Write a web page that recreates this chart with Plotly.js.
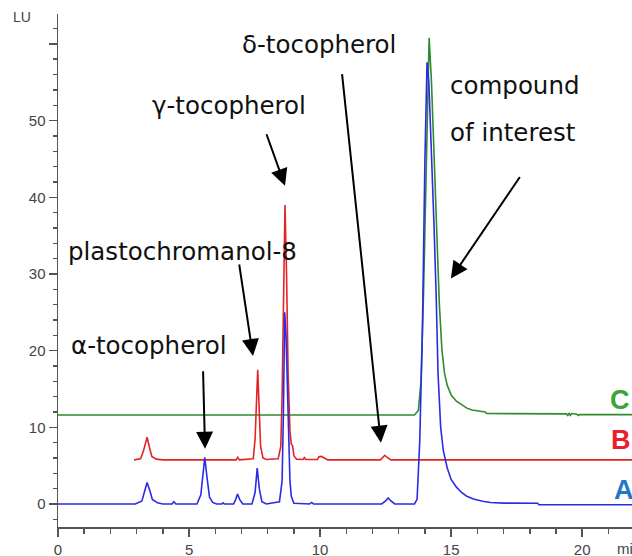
<!DOCTYPE html>
<html>
<head>
<meta charset="utf-8">
<script src="https://cdn.plot.ly/plotly-3.0.1.min.js"></script>
<style>
html,body{margin:0;padding:0;background:#fff;}
#chart{width:632px;height:556px;}
</style>
</head>
<body>
<div id="chart"></div>
<script>
// Trace A (blue) retention time (min) and signal (LU)
const timeA = [0, 2.95, 3.2, 3.3, 3.4, 3.5, 3.6, 3.8, 4.0, 4.35, 4.42, 4.5, 5.3, 5.45, 5.53, 5.6, 5.68, 5.78, 5.9, 6.05, 6.25, 6.3, 6.35, 6.7, 6.78, 6.85, 6.93, 7.05, 7.4, 7.52, 7.6, 7.68, 7.78, 7.95, 8.45, 8.55, 8.6, 8.65, 8.7, 8.75, 8.8, 8.85, 8.9, 9.0, 9.6, 9.68, 9.75, 12.35, 12.5, 12.6, 12.7, 12.85, 13.6, 13.7, 13.8, 13.9, 14.0, 14.08, 14.15, 14.25, 14.35, 14.43, 14.5, 14.6, 14.7, 14.85, 15.0, 15.2, 15.4, 15.6, 15.85, 16.2, 16.5, 17.0, 18.3, 18.35, 21.9];
const signalA = [0, 0, 0.4, 1.7, 2.8, 1.8, 0.6, 0.15, 0, 0, 0.3, 0, 0, 1.2, 4.0, 6.1, 3.6, 0.9, 0.2, 0, 0, 0.15, 0, 0, 0.6, 1.3, 0.6, 0, 0, 1.5, 4.7, 2.0, 0.3, 0, 0.3, 3, 12, 25, 22, 15, 8, 3, 1, 0.1, 0, 0.2, 0, 0, 0.4, 0.8, 0.4, 0, 0, 0.6, 8, 22, 45, 57.6, 55, 46, 36, 27, 17, 10, 7, 4.7, 3.2, 2.2, 1.5, 1.0, 0.65, 0.35, 0.2, 0.12, 0.1, -0.1, -0.1];

// Trace B (red)
const timeB = [2.9, 3.15, 3.25, 3.33, 3.4, 3.48, 3.58, 3.75, 4.0, 6.8, 6.86, 6.92, 7.45, 7.52, 7.56, 7.62, 7.68, 7.73, 7.82, 7.95, 8.4, 8.5, 8.55, 8.6, 8.66, 8.72, 8.78, 8.85, 8.9, 8.95, 9.0, 9.1, 9.35, 9.4, 9.45, 9.9, 9.95, 10.05, 10.15, 10.3, 12.3, 12.4, 12.47, 12.55, 12.7, 21.9];
const signalB = [5.75, 5.9, 6.8, 8.0, 8.7, 7.5, 6.2, 5.85, 5.75, 5.75, 6.1, 5.75, 5.9, 8.5, 12, 17.5, 12, 7.5, 6.0, 5.8, 5.9, 7.5, 14, 29, 39.0, 30, 17, 9.5, 7.8, 7.6, 6.3, 5.85, 5.8, 6.05, 5.8, 5.8, 6.15, 6.2, 6.05, 5.75, 5.75, 6.15, 6.35, 6.1, 5.75, 5.75];

// Trace C (green)
const timeC = [0, 13.6, 13.75, 13.85, 13.95, 14.05, 14.16, 14.25, 14.35, 14.45, 14.55, 14.65, 14.75, 14.85, 15.0, 15.2, 15.4, 15.6, 15.8, 16.1, 16.3, 16.35, 19.4, 19.45, 19.5, 19.55, 19.6, 19.8, 19.85, 19.9, 21.9];
const signalC = [11.6, 11.6, 12.2, 16, 28, 45, 60.8, 55, 45, 35, 26, 20, 17, 15.5, 14.2, 13.4, 12.9, 12.5, 12.25, 12.1, 12.0, 11.8, 11.75, 11.55, 11.8, 11.55, 11.8, 11.7, 11.55, 11.65, 11.65];

// Axis ticks
const yTickValues = [0, 10, 20, 30, 40, 50, 60];
const yTickLabels = ['0', '10', '20', '30', '40', '50', ''];
const xTickValues = [0, 5, 10, 15, 20];
const xTickLabels = ['0', '5', '10', '15', '20'];

// Peak labels and trace letters
const peakNames = ['α-tocopherol', 'plastochromanol-8', 'γ-tocopherol', 'δ-tocopherol', 'compound', 'of interest'];
const traceNames = ['C', 'B', 'A'];

const lineW = 1.6;
const traces = [
  {x: timeC, y: signalC, mode: 'lines', line: {color: '#2e8b2e', width: lineW}, name: 'C', hoverinfo: 'skip'},
  {x: timeB, y: signalB, mode: 'lines', line: {color: '#e42424', width: lineW}, name: 'B', hoverinfo: 'skip'},
  {x: timeA, y: signalA, mode: 'lines', line: {color: '#2b2be6', width: lineW}, name: 'A', hoverinfo: 'skip'}
];

const txtFont = {family: 'DejaVu Sans, sans-serif', size: 24.5, color: '#111'};
function arrow(x, y, ax, ay) {
  return {x: x, y: y, xref: 'x', yref: 'y', ax: ax, ay: ay, axref: 'pixel', ayref: 'pixel',
    text: '', showarrow: true, arrowhead: 2, arrowsize: 1.7, arrowwidth: 2, arrowcolor: '#000', standoff: 0};
}
function label(text, x, y) {
  return {x: x, y: y, xref: 'x', yref: 'y', text: text, showarrow: false, xanchor: 'left', yanchor: 'middle', font: txtFont, align: 'left'};
}
const letterFont = (c) => ({family: 'Liberation Sans, Arial, sans-serif', size: 27, color: c});

const annotations = [
  label(peakNames[0], 0.42, 20.7),
  label(peakNames[1], 0.3, 32.9),
  label(peakNames[2], 3.5, 52.0),
  label(peakNames[3], 6.95, 59.9),
  label(peakNames[4], 14.89, 54.6),
  label(peakNames[5], 14.89, 48.4),
  arrow(5.61, 7.2, -2, -79),
  arrow(7.44, 19.3, -14, -93),
  arrow(8.66, 41.5, -19, -53),
  arrow(12.32, 8.0, -39, -370),
  arrow(14.99, 29.4, 70, -103),
  {x: 20.99, y: 13.6, xref: 'x', yref: 'y', text: '<b>' + traceNames[0] + '</b>', showarrow: false, xanchor: 'left', yanchor: 'middle', font: letterFont('#3aa63a')},
  {x: 21.03, y: 8.3, xref: 'x', yref: 'y', text: '<b>' + traceNames[1] + '</b>', showarrow: false, xanchor: 'left', yanchor: 'middle', font: letterFont('#e8202a')},
  {x: 21.15, y: 1.8, xref: 'x', yref: 'y', text: '<b>' + traceNames[2] + '</b>', showarrow: false, xanchor: 'left', yanchor: 'middle', font: letterFont('#1f78c8')},
  {x: -0.062, y: 0.995, xref: 'paper', yref: 'paper', text: 'LU', showarrow: false, xanchor: 'center', yanchor: 'middle', font: {family: 'Liberation Sans Narrow, Arial Narrow, sans-serif', size: 14, color: '#444'}},
  {x: 0.970, y: -0.041, xref: 'paper', yref: 'paper', text: 'min', showarrow: false, xanchor: 'left', yanchor: 'middle', font: {family: 'Liberation Sans Narrow, Arial Narrow, sans-serif', size: 15, color: '#444'}}
];

const tickFont = {family: 'Liberation Sans Narrow, Arial Narrow, sans-serif', size: 15, color: '#444'};
const layout = {
  width: 632, height: 556,
  margin: {l: 58, r: 0, t: 14, b: 29, pad: 0},
  paper_bgcolor: '#fff', plot_bgcolor: '#fff',
  showlegend: false,
  xaxis: {
    range: [0, 21.9], showgrid: false, zeroline: false,
    showline: true, linecolor: '#555', linewidth: 1.5,
    tickmode: 'array', tickvals: xTickValues, ticktext: xTickLabels,
    ticks: 'outside', ticklen: 8, tickwidth: 1.5, tickcolor: '#555',
    minor: {dtick: 1, ticks: 'outside', ticklen: 5, tickwidth: 1.5, tickcolor: '#555', showgrid: false},
    tickfont: tickFont
  },
  yaxis: {
    range: [-3.0, 63.9], showgrid: false, zeroline: false,
    showline: true, linecolor: '#555', linewidth: 1.5,
    tickmode: 'array', tickvals: yTickValues, ticktext: yTickLabels,
    ticks: 'outside', ticklen: 8, tickwidth: 1.5, tickcolor: '#555',
    minor: {dtick: 2, ticks: 'outside', ticklen: 4, tickwidth: 1.5, tickcolor: '#555', showgrid: false},
    tickfont: tickFont
  },
  annotations: annotations
};

Plotly.newPlot('chart', traces, layout, {displayModeBar: false, staticPlot: true});
</script>
</body>
</html>
